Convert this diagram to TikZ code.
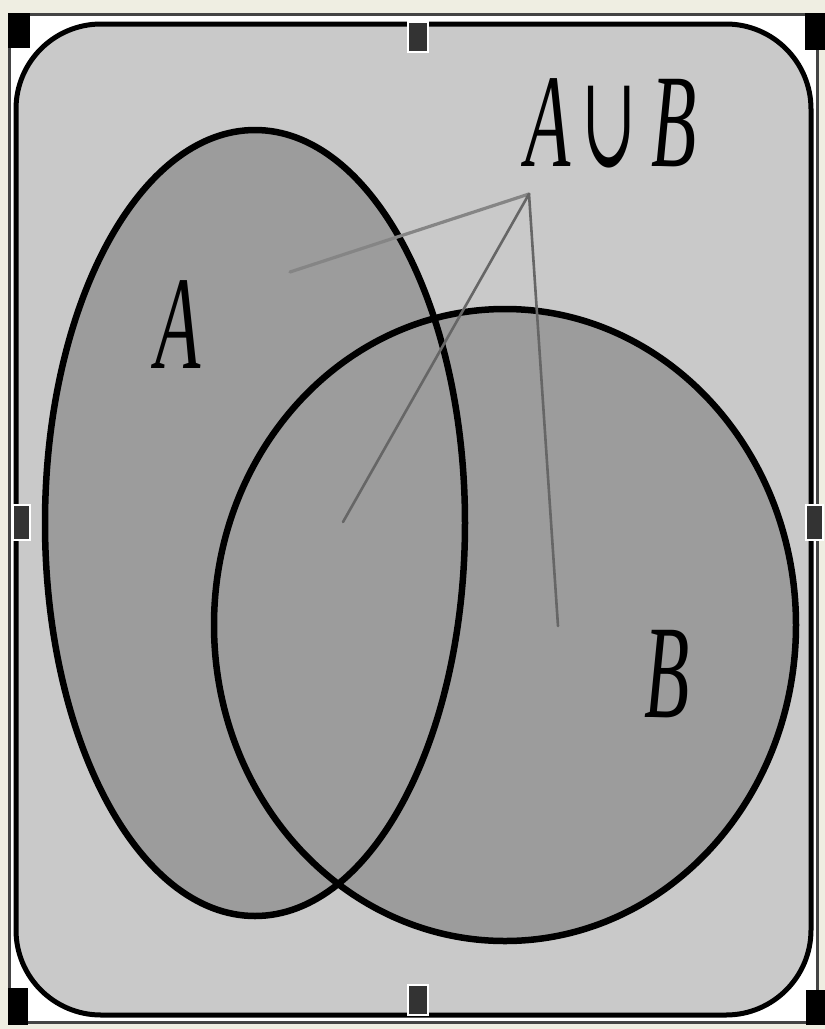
\documentclass[tikz,border=0pt]{standalone}
\usepackage{fontspec}
\setmainfont{Liberation Serif}
\newfontfamily\cupfont{DejaVu Serif}
\begin{document}
\begin{tikzpicture}[x=1pt,y=-1pt,
  setfill/.style={fill=setgray},
  setline/.style={draw=black,line width=6.5pt},
  pointer/.style={draw=ptrgray,line width=2.6pt,line cap=round},
  handle/.style={fill=black},
  midhandle/.style={fill=handlegray,draw=white,line width=1.5pt},
  lbl/.style={inner sep=0pt,anchor=base,font=\itshape\fontsize{74}{80}\selectfont,yscale=1.8,transform shape}]
\definecolor{cream}{HTML}{EFEEE2}
\definecolor{panel}{HTML}{C9C9C9}
\definecolor{setgray}{HTML}{9C9C9C}
\definecolor{ptrgray}{HTML}{666666}
\definecolor{ptrlight}{HTML}{858585}
\definecolor{framegray}{HTML}{444444}
\definecolor{handlegray}{HTML}{333333}
\useasboundingbox (0,0) rectangle (825,1029);
\fill[cream] (0,0) rectangle (825,1029);
\draw[fill=white,draw=framegray,line width=3pt] (9,14) rectangle (817,1022);
\draw[fill=panel,draw=black,line width=5pt,rounded corners=85pt] (16,24) rectangle (811,1015);
% sets
\fill[setfill] (255,523) ellipse [x radius=210,y radius=393];
\fill[setfill] (505,625) ellipse [x radius=291,y radius=316];
\draw[setline] (255,523) ellipse [x radius=210,y radius=393];
\draw[setline] (505,625) ellipse [x radius=291,y radius=316];
% labels
\node[lbl] (lA) at (178,368) {A};
\node[lbl] (lB) at (667,717) {B};
\node[lbl] (lU1) at (548,166) {A};
\node[lbl,font=\cupfont\fontsize{66}{70}\selectfont,yscale=1.1] (lU2) at (609,166) {∪};
\node[lbl] (lU3) at (674,166) {B};
% pointers
\coordinate (apex) at (529,194);
\coordinate (pA) at (290,272);
\coordinate (pI) at (343,522);
\coordinate (pB) at (558,626);
\draw[pointer,draw=ptrlight,line width=3.2pt] (apex) -- (pA);
\draw[pointer] (apex) -- (pI);
\draw[pointer] (apex) -- (pB);
% selection handles
\fill[handle] (8,13) rectangle (30,48);
\fill[handle] (805,13) rectangle (825,50);
\fill[handle] (8,988) rectangle (28,1025);
\fill[handle] (806,990) rectangle (825,1025);
\draw[midhandle] (408,22) rectangle (428,52);
\draw[midhandle] (408,985) rectangle (428,1015);
\draw[midhandle] (13,505) rectangle (30,540);
\draw[midhandle] (806,505) rectangle (823,540);
\end{tikzpicture}
\end{document}
